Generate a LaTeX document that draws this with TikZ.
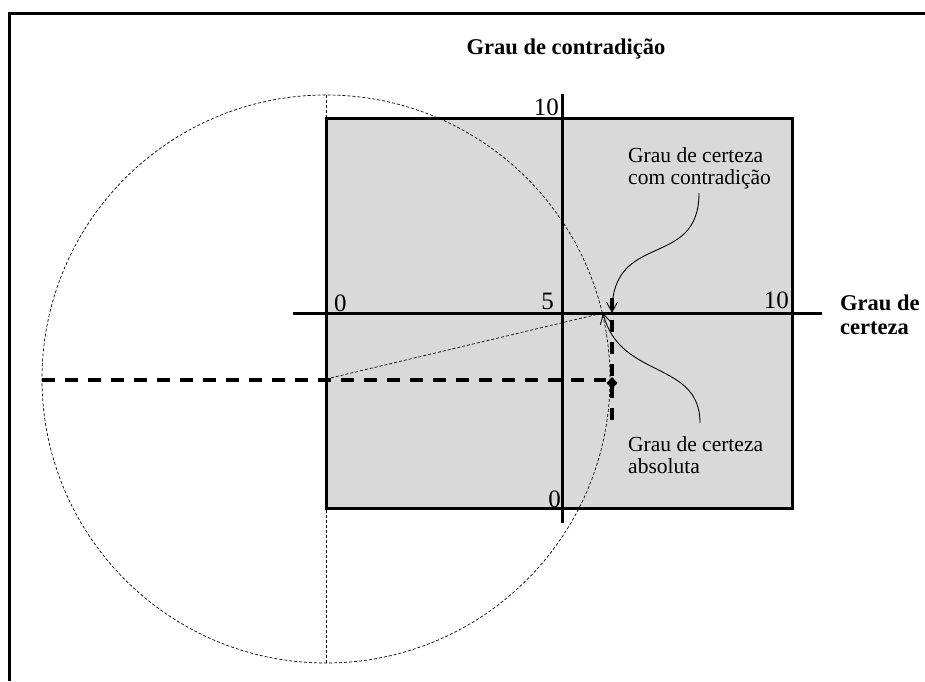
\documentclass[tikz,border=0pt]{standalone}
\usepackage{fontspec}
\setmainfont{Liberation Serif}
\usetikzlibrary{arrows.meta,shapes.geometric}
\definecolor{boxgray}{HTML}{D9D9D9}
\tikzset{
  thickline/.style={line width=3pt},
  thindash/.style={line width=0.7pt, dash pattern=on 3pt off 2pt},
  bigdash/.style={line width=3.2pt, dash pattern=on 13pt off 10pt},
  note/.style={font=\fontsize{21.5}{22}\selectfont, inner sep=0pt},
  title/.style={font=\fontsize{22.5}{24}\selectfont\bfseries, inner sep=0pt},
  num/.style={font=\fontsize{25}{26}\selectfont, inner sep=0pt},
  pointer/.style={line width=0.9pt, -{Straight Barb[length=10pt,width=11pt,line width=0.9pt]}}
}
\begin{document}
\begin{tikzpicture}[x=1pt,y=-1pt]
\useasboundingbox (0,0) rectangle (925,681);
% outer frame (cropped)
\draw[thickline] (9,681) -- (9,13.5) -- (925,13.5);
% gray box
\draw[thickline, fill=boxgray] (326,118) rectangle (792,508);
% key points
\coordinate (C) at (326,379);
\coordinate (P) at (603,313);
\coordinate (Q) at (612,313);
\coordinate (L) at (42,380);
\coordinate (ctop) at (326,95);
\coordinate (cbot) at (326,663);
\coordinate (vtop) at (612,298);
\coordinate (vbot) at (612,420);
% circle and thin dashed lines
\draw[thindash] (C) circle[radius=284];
\draw[thindash] (ctop) -- (cbot);
\draw[thindash] (C) -- (P);
% axes
\coordinate (yt) at (562,94);
\coordinate (yb) at (562,523);
\coordinate (xl) at (293,313);
\coordinate (xr) at (822,313);
\draw[thickline] (yt) -- (yb);
\draw[thickline] (xl) -- (xr);
% thick dashed lines
\node[diamond, fill=black, inner sep=0pt, minimum width=11pt, minimum height=12pt] (D) at (612,383) {};
\draw[bigdash] (L) -- (L -| D.west);
\draw[line width=3.2pt, dash pattern=on 12pt off 10pt] (vtop) -- (vbot);
% numbers
\node[num, anchor=base east] (n10t) at (559,115) {10};
\node[num, anchor=base west] (n0l) at (334,311) {0};
\node[num, anchor=base east] (n5) at (554,309) {5};
\node[num, anchor=base east] (n10r) at (789,308) {10};
\node[num, anchor=base east] (n0b) at (561,507) {0};
% titles
\node[title, anchor=base] (tc) at (566,54) {Grau de contradição};
\node[title, anchor=base west] (tr1) at (840,310) {Grau de};
\node[title, anchor=base west] (tr2) at (840,334) {certeza};
% annotations
\node[note, anchor=base west] (a1a) at (628,162) {Grau de certeza};
\node[note, anchor=base west] (a1b) at (628,184) {com contradição};
\node[note, anchor=base west] (a2a) at (628,451) {Grau de certeza};
\node[note, anchor=base west] (a2b) at (628,473) {absoluta};
\coordinate (s1) at (699,193);
\coordinate (s2) at (700,423);
\draw[pointer] (s1) .. controls (699,270) and (612,230) .. (Q);
\draw[pointer] (s2) .. controls (700,360) and (620,380) .. (P);
\end{tikzpicture}
\end{document}
